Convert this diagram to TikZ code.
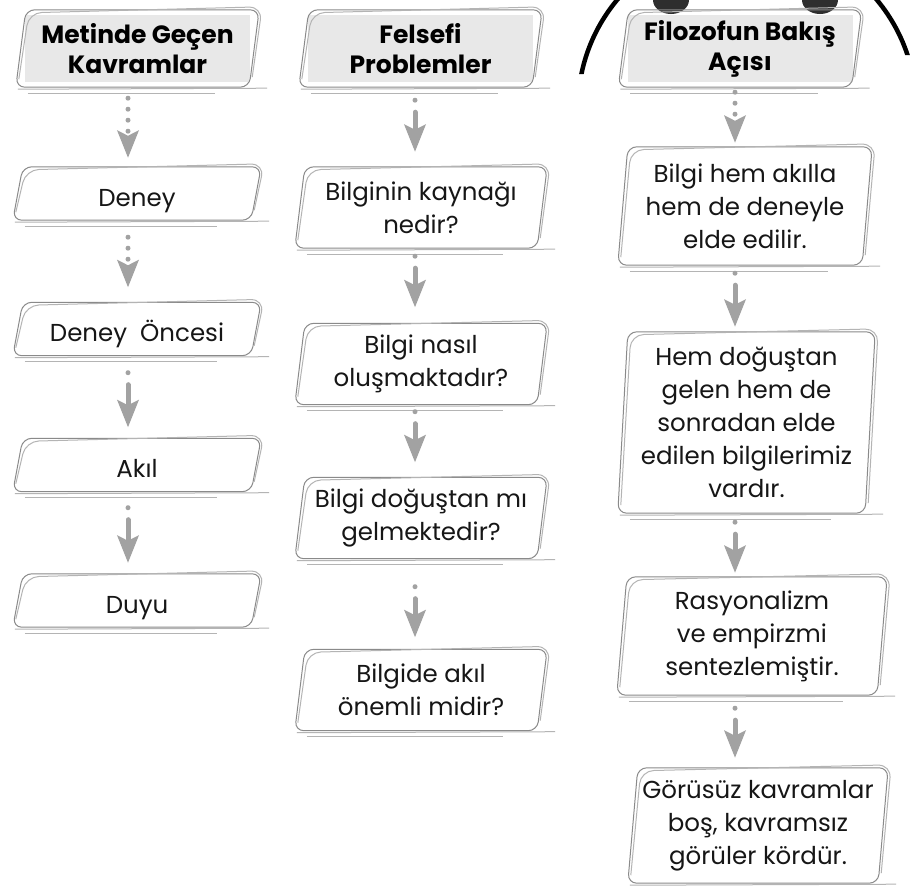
\documentclass[tikz,border=0pt]{standalone}
\usepackage{fontspec}
\setmainfont{Poppins}
\usetikzlibrary{arrows.meta}

\definecolor{boxline}{HTML}{8A8A8A}
\definecolor{boxlight}{HTML}{B4B4B4}
\definecolor{headfill}{HTML}{E8E8E8}
\definecolor{arrowgray}{HTML}{A2A2A2}
\definecolor{textdark}{HTML}{161616}

\newcommand{\sketchbox}[2][0pt]{%
  \draw[sketchline, rounded corners=9pt]
    ([shift={(-4pt-#1,-#1)}]#2.south west) -- ([shift={(6pt-#1,#1)}]#2.north west)
    -- ([shift={(4pt+#1,#1)}]#2.north east) -- ([shift={(-6pt+#1,-#1)}]#2.south east) -- cycle;
  \draw[sketchline, draw=boxlight, rounded corners=13pt]
    ([shift={(-1pt-#1,8pt-#1)}]#2.south west) -- ([shift={(9pt-#1,-3pt+#1)}]#2.north west)
    -- ([shift={(7pt+#1,3pt+#1)}]#2.north east) -- ([shift={(-3pt+#1,10pt-#1)}]#2.south east);
  \draw[sketchline, draw=boxlight]
    ([shift={(-2pt-#1,-2pt-#1)}]#2.south west) -- ([shift={(12pt+#1,-1pt-#1)}]#2.south east);
  \draw[sketchline, draw=boxlight]
    ([shift={(8pt-#1,-6pt-#1)}]#2.south west) -- ([shift={(-40pt+#1,-6pt-#1)}]#2.south east);
}

\begin{document}
\begin{tikzpicture}[x=1pt, y=-1pt,
  every node/.style = {align=center, inner sep=0pt, text=textdark,
    font=\fontsize{24.5}{33}\selectfont},
  header/.style = {fill=headfill, minimum width=225pt, minimum height=67pt,
    text=black, font=\fontsize{25}{30}\selectfont\bfseries},
  concept/.style = {minimum width=240pt, minimum height=53pt,
    text height=25pt, text depth=0pt},
  problem/.style = {minimum width=244pt, minimum height=81pt},
  view/.style = {minimum width=246pt},
  sketchline/.style = {draw=boxline, line width=1pt},
  dotflow/.style = {draw=arrowgray, line width=5pt, line cap=round,
    dash pattern=on 0pt off 11pt, -{Stealth[length=27pt, width=21pt, inset=5pt]}},
  iflow/.style = {draw=arrowgray, line width=5pt, line cap=round,
    dash pattern=on 0pt off 12pt on 300pt, -{Stealth[length=27pt, width=21pt, inset=5pt]}}]

  \path[use as bounding box, fill=white] (0,0) rectangle (922,887);

  % head outline at the top right
  \begin{scope}
    \clip (560,0) -- (922,0) -- (922,55) -- (747,55) -- (747,74) -- (560,74) -- cycle;
    \draw[line width=4.5pt] (747,108) circle[radius=169pt];
    \fill[black!82] (671,0) ellipse[x radius=18pt, y radius=14pt];
    \fill[black!82] (820,0) ellipse[x radius=18pt, y radius=14pt];
  \end{scope}

  \coordinate (col1) at (128,0);
  \coordinate (col2) at (415,0);
  \coordinate (col3) at (735,0);

  \node[header] (h1) at (137.5,48.5) {Metinde Geçen\\Kavramlar};
  \node[header] (h2) at (420.5,48.5) {Felsefi\\Problemler};
  \node[header] (h3) at (740,48.5) {Filozofun Bakış\\Açısı};

  \node[concept] (c1) at (137,193.5) {Deney};
  \node[concept] (c2) at (137,329) {Deney~~Öncesi};
  \node[concept] (c3) at (137,465) {Akıl};
  \node[concept] (c4) at (137,600.5) {Duyu};

  \node[problem] (p1) at (421,207.5) {Bilginin kaynağı\\nedir?};
  \node[problem] (p2) at (421,364) {Bilgi nasıl\\oluşmaktadır?};
  \node[problem] (p3) at (421,518) {Bilgi doğuştan mı\\gelmektedir?};
  \node[problem] (p4) at (421,690) {Bilgide akıl\\önemli midir?};

  \node[view, minimum height=118pt] (v1) at (745,206)
    {Bilgi hem akılla\\hem de deneyle\\elde edilir.};
  \node[view, minimum width=249pt, minimum height=181pt] (v2) at (746.5,422.5)
    {Hem doğuştan\\gelen hem de\\sonradan elde\\edilen bilgilerimiz\\vardır.};
  \node[view, minimum width=262pt, minimum height=118pt] (v3) at (752,636)
    {Rasyonalizm\\ve empirzmi\\sentezlemiştir.};
  \node[view, minimum width=252pt, minimum height=115pt] (v4) at (758,825.5)
    {Görüsüz kavramlar\\boş, kavramsız\\görüler kördür.};

  \sketchbox[5pt]{h1}
  \sketchbox[5pt]{h2}
  \sketchbox[5pt]{h3}
  \sketchbox{c1}
  \sketchbox{c2}
  \sketchbox{c3}
  \sketchbox{c4}
  \sketchbox{p1}
  \sketchbox{p2}
  \sketchbox{p3}
  \sketchbox{p4}
  \sketchbox{v1}
  \sketchbox{v2}
  \sketchbox{v3}
  \sketchbox{v4}

  \draw[dotflow, shorten <=16pt, shorten >=9pt] (h1.south -| col1) -- (c1.north -| col1);
  \draw[dotflow, shorten <=17pt, shorten >=15pt] (c1.south -| col1) -- (c2.north -| col1);
  \draw[iflow, shorten <=17pt, shorten >=11pt] (c2.south -| col1) -- (c3.north -| col1);
  \draw[iflow, shorten <=16pt, shorten >=11pt] (c3.south -| col1) -- (c4.north -| col1);

  \draw[iflow, shorten <=18pt, shorten >=15pt] (h2.south -| col2) -- (p1.north -| col2);
  \draw[iflow, shorten <=8pt, shorten >=16pt] (p1.south -| col2) -- (p2.north -| col2);
  \draw[iflow, shorten <=7pt, shorten >=15pt] (p2.south -| col2) -- (p3.north -| col2);
  \draw[iflow, shorten <=28pt, shorten >=12pt] (p3.south -| col2) -- (p4.north -| col2);

  \draw[dotflow, shorten <=10pt, shorten >=4pt] (h3.south -| col3) -- (v1.north -| col3);
  \draw[iflow, shorten <=8pt, shorten >=5pt] (v1.south -| col3) -- (v2.north -| col3);
  \draw[iflow, shorten <=9pt, shorten >=4pt] (v2.south -| col3) -- (v3.north -| col3);
  \draw[iflow, shorten <=13pt, shorten >=10pt] (v3.south -| col3) -- (v4.north -| col3);
\end{tikzpicture}
\end{document}
